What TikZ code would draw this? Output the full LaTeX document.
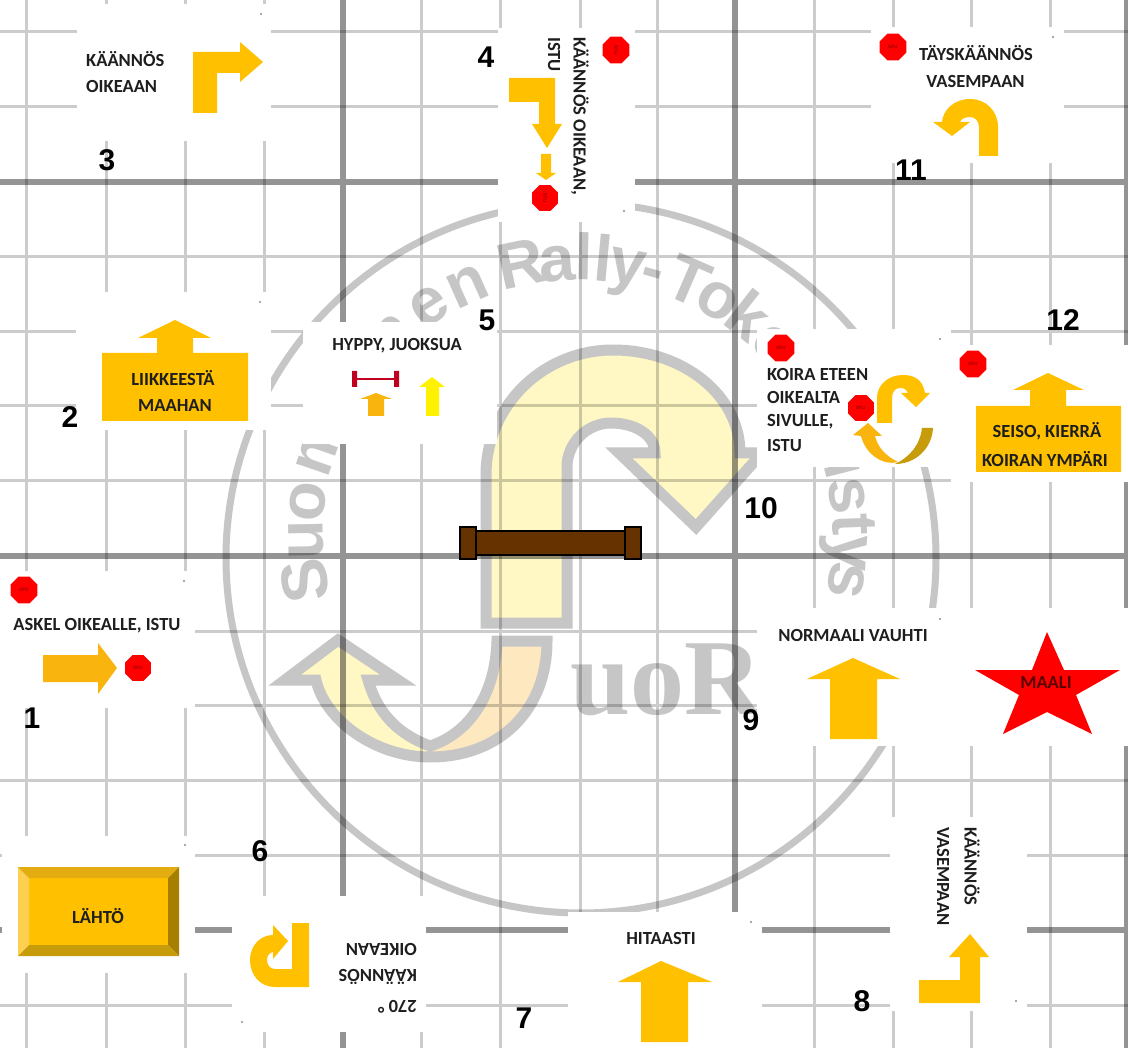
\documentclass[tikz,border=0pt]{standalone}
\usepackage{fontspec}
\setmainfont{Carlito}
\newfontfamily\numfont{Liberation Sans}
\newfontfamily\serfont{Liberation Serif}
\usepackage{tikz}
\usetikzlibrary{shapes.geometric}
\definecolor{rallyGold}{HTML}{FFC000}
\definecolor{rallyOrange}{HTML}{F9B40E}
\definecolor{rallyDark}{HTML}{C69C0B}
\definecolor{rallyRed}{HTML}{FF0000}
\definecolor{rallyText}{HTML}{1E1E1E}
\definecolor{rallyBar}{HTML}{C00020}
\definecolor{markGray}{HTML}{C6C6C6}
\definecolor{markYellow}{HTML}{FFF8C4}
\definecolor{markPeach}{HTML}{FDE8C0}
\definecolor{hurdleBrown}{HTML}{663300}
\tikzset{
  gridthin/.style={draw=black, draw opacity=0.2, line width=3pt},
  gridthick/.style={draw=black, draw opacity=0.42, line width=6pt},
  card/.style={fill=white, inner sep=0pt, rectangle},
  lbl/.style={inner sep=0pt, text=rallyText, font=\fontsize{18.5}{18.5}\selectfont\bfseries},
  num/.style={inner sep=0pt, text=black, font=\numfont\fontsize{30}{30}\selectfont\bfseries},
  stopsign/.style={regular polygon, regular polygon sides=8, fill=rallyRed, inner sep=0pt, minimum size=29pt, text=black!55!red, font=\fontsize{5}{5}\selectfont},
  gold/.style={fill=rallyGold},
  logo/.style={draw=markGray, line width=11pt, line join=miter},
  markletter/.style={inner sep=0pt, anchor=base, text=markGray, font=\numfont\fontsize{65}{65}\selectfont\bfseries},
  post/.style={draw=black, fill=hurdleBrown, line width=2pt, minimum width=16pt, minimum height=31pt, inner sep=0pt}
}
\begin{document}
\begin{tikzpicture}[x=1pt,y=-1pt]
  \useasboundingbox (0,0) rectangle (1128,1048);
  \fill[white] (0,0) rectangle (1128,1048);
  % watermark
  \draw[draw=markGray, line width=7pt] (581,558) circle[radius=355pt];
  \foreach \c/\a [count=\i] in {S/170.5,u/179,o/187,m/199,a/208,l/213,a/218,i/222,n/227,e/237,n/246,R/258,a/265.7,l/271.2,l/275.3,y/280.5,-/286,T/293.4,o/300.7,k/308,o/316,Y/329,h/335,d/341,i/346,s/351.8,t/357.9,y/363.8,s/369.6}{
    \node[markletter, rotate={270-\a}] (mark\i) at ({578+255*cos(\a)},{535+255*sin(\a)}) {\c};
  }
  \node[inner sep=0pt, text=markGray, font=\serfont\fontsize{108}{108}\selectfont\bfseries, anchor=base west] (markname) at (570,714) {uoR};
  \fill[markYellow] (486,623) -- (486,475) .. controls (486,406) and (543,350) .. (613,350) .. controls (683,350) and (740,395) .. (740,453) -- (762,453) -- (696,527) -- (619,453) -- (655,453) .. controls (655,435) and (635,423) .. (611,423) .. controls (587,423) and (567,443) .. (567,467) -- (567,623) -- cycle;
  \draw[logo] (486,623) -- (486,475) .. controls (486,406) and (543,350) .. (613,350) .. controls (683,350) and (740,395) .. (740,453) -- (762,453) -- (696,527) -- (619,453) -- (655,453) .. controls (655,435) and (635,423) .. (611,423) .. controls (587,423) and (567,443) .. (567,467) -- (567,623) -- cycle;
  \fill[markYellow] (430,757) .. controls (375,757) and (325,720) .. (316,680) -- (285,680) -- (338,640) -- (398,680) -- (368,680) .. controls (378,715) and (400,735) .. (430,746) -- cycle;
  \fill[markPeach] (547,641) .. controls (547,710) and (500,757) .. (430,757) -- (430,746) .. controls (465,735) and (495,700) .. (497,641) -- cycle;
  \draw[logo] (547,641) .. controls (547,710) and (500,757) .. (430,757) .. controls (375,757) and (325,720) .. (316,680) -- (285,680) -- (338,640) -- (398,680) -- (368,680) .. controls (378,715) and (400,735) .. (430,746) .. controls (465,735) and (495,700) .. (497,641) -- cycle;
  % grid
  \draw[gridthin] \foreach \x in {26,106,185,264,421,500,580,657,814,893,971,1050}{(\x,0) -- (\x,1048)} \foreach \y in {32,107,257,332,406,481,631,705,780,855,1005}{(0,\y) -- (1128,\y)};
  \draw[gridthick] \foreach \x in {343,735,1127}{(\x,0) -- (\x,1048)} \foreach \y in {182,556,930}{(0,\y) -- (1128,\y)};
  % hurdle
  \node[rectangle, draw=black, fill=hurdleBrown, line width=2pt, minimum width=150pt, minimum height=23pt, inner sep=0pt] (hurdlebar) at (551,543) {};
  \node[post] (hurdleleft) at (468,543) {};
  \node[post] (hurdleright) at (633,543) {};
  % 3
  \node[card, minimum width=194pt, minimum height=137pt] (card3) at (174,72.5) {};
  \node[lbl, anchor=west] (c3a) at (86,59) {KÄÄNNÖS};
  \node[lbl, anchor=west] (c3b) at (86,87) {OIKEAAN};
  \fill[gold] (193,113) -- (193,52) -- (240,52) -- (240,42) -- (263,62) -- (240,82) -- (240,73) -- (217,73) -- (217,113) -- cycle;
  % 11
  \node[card, minimum width=193pt, minimum height=136pt] (card11) at (967.5,95) {};
  \node[stopsign] (s11) at (893,47) {ISTU};
  \node[lbl] (c11a) at (976,53) {TÄYSKÄÄNNÖS};
  \node[lbl] (c11b) at (975.5,82) {VASEMPAAN};
  \fill[gold] (979,156) -- (998,156) -- (998,127) .. controls (998,111) and (986,99) .. (970,99) .. controls (954,99) and (943,110) .. (942,122) -- (933,122) -- (952,136) -- (970,122) -- (960,122) .. controls (961,119) and (965,117) .. (970,117) .. controls (975,117) and (979,121) .. (979,127) -- cycle;
  % 4
  \node[card, minimum width=137pt, minimum height=194pt] (card4) at (566.5,125) {};
  \node[stopsign, rotate=-90] (s4a) at (616,50) {ISTU};
  \node[stopsign, rotate=-90, minimum size=28pt] (s4b) at (545,198) {ISTU};
  \node[lbl, rotate=-90, anchor=west] (c4a) at (580,37) {KÄÄNNÖS OIKEAAN,};
  \node[lbl, rotate=-90, anchor=west] (c4b) at (554,37) {ISTU};
  \fill[gold] (509,78) -- (555,78) -- (555,124) -- (562,124) -- (547,148) -- (532,124) -- (539,124) -- (539,102) -- (509,102) -- cycle;
  \fill[gold] (541,154) -- (551,154) -- (551,173) -- (556,173) -- (546,180) -- (536,173) -- (541,173) -- cycle;
  % 2
  \node[card, minimum width=195pt, minimum height=138pt] (card2) at (173.5,361) {};
  \fill[gold] (102,353) -- (157,353) -- (157,338) -- (138,338) -- (175,320) -- (211,338) -- (193,338) -- (193,353) -- (248,353) -- (248,421) -- (102,421) -- cycle;
  \node[lbl] (c2a) at (173,378) {LIIKKEESTÄ};
  \node[lbl] (c2b) at (175,406) {MAAHAN};
  % 5
  \node[card, minimum width=194pt, minimum height=122pt] (card5) at (400,383) {};
  \node[lbl] (c5) at (397,346) {HYPPY, JUOKSUA};
  \draw[draw=rallyBar, line width=2pt] (356,379) -- (395,379);
  \fill[rallyBar] (352,371) rectangle (357,387) (394,371) rectangle (399,387);
  \fill[fill=rallyOrange] (368,416) -- (368,399) -- (360,399) -- (376,393) -- (392,399) -- (384,399) -- (384,416) -- cycle;
  \fill[fill=yellow] (426,416) -- (426,387) -- (419,387) -- (432,377) -- (445,387) -- (439,387) -- (439,416) -- cycle;
  % 10
  \node[card, minimum width=194pt, minimum height=138pt] (card10) at (854,398) {};
  \node[stopsign] (s10a) at (781,348) {ISTU};
  \node[stopsign, minimum size=28pt] (s10b) at (861,408) {ISTU};
  \node[lbl, anchor=west] (c10a) at (767,374) {KOIRA ETEEN};
  \node[lbl, anchor=west] (c10b) at (767,397) {OIKEALTA};
  \node[lbl, anchor=west] (c10c) at (767,422) {SIVULLE,};
  \node[lbl, anchor=west] (c10d) at (767,446) {ISTU};
  \fill[gold] (877,423) -- (877,398) .. controls (877,385) and (888,375) .. (903,375) .. controls (917,375) and (923,382) .. (925,393) -- (930,393) -- (916,407) -- (901,393) -- (908,393) .. controls (906,389) and (904,388) .. (900,388) .. controls (895,388) and (892,392) .. (892,398) -- (892,423) -- cycle;
  \fill[fill=rallyOrange] (868,423) -- (882,436) -- (875,436) .. controls (878,448) and (886,456) .. (898,462) .. controls (885,466) and (866,456) .. (861,436) -- (853,435) -- cycle;
  \fill[fill=rallyDark] (922,428) -- (933,428) .. controls (932,448) and (916,464) .. (895,464) .. controls (908,458) and (920,446) .. (922,428) -- cycle;
  % 12
  \node[card, minimum width=177pt, minimum height=137pt] (card12) at (1039.5,413.5) {};
  \node[stopsign] (s12) at (973,364) {ISTU};
  \fill[gold] (976,406) -- (1030,406) -- (1030,390) -- (1013,390) -- (1048,373) -- (1084,390) -- (1066,390) -- (1066,406) -- (1121,406) -- (1121,472) -- (976,472) -- cycle;
  \node[lbl] (c12a) at (1047,431) {SEISO, KIERRÄ};
  \node[lbl] (c12b) at (1045,459) {KOIRAN YMPÄRI};
  % 1
  \node[card, minimum width=195pt, minimum height=137pt] (card1) at (97.5,639.5) {};
  \node[stopsign] (s1a) at (24,590) {ISTU};
  \node[lbl] (c1) at (97,626) {ASKEL OIKEALLE, ISTU};
  \fill[fill=rallyOrange] (43,655) -- (98,655) -- (98,643) -- (117,668) -- (98,694) -- (98,682) -- (43,682) -- cycle;
  \node[stopsign, minimum size=28pt] (s1b) at (138,668) {ISTU};
  % 9 and finish
  \node[card, minimum width=371pt, minimum height=138pt] (card9) at (942.5,677) {};
  \node[lbl] (c9) at (853,636) {NORMAALI VAUHTI};
  \fill[gold] (830,739) -- (830,679) -- (807,679) -- (853,658) -- (900,679) -- (877,679) -- (877,739) -- cycle;
  \fill[rallyRed] (1047,632) -- (1064,670) -- (1120,670) -- (1076,695) -- (1092,734) -- (1047,712) -- (1003,734) -- (1019,695) -- (975,670) -- (1032,670) -- cycle;
  \node[lbl, text=black!65!red] (maali) at (1046,683) {MAALI};
  % start
  \node[card, minimum width=193pt, minimum height=137pt] (card0) at (98.5,904.5) {};
  \fill[gold] (29,878) rectangle (168,945);
  \fill[fill={rgb,255:red,255;green,208;blue,80}] (18,867) -- (29,878) -- (29,945) -- (18,956) -- cycle;
  \fill[fill={rgb,255:red,227;green,172;blue,16}] (18,867) -- (179,867) -- (168,878) -- (29,878) -- cycle;
  \fill[fill={rgb,255:red,166;green,127;blue,0}] (179,867) -- (179,956) -- (168,945) -- (168,878) -- cycle;
  \fill[fill=rallyDark] (18,956) -- (179,956) -- (168,945) -- (29,945) -- cycle;
  \node[lbl] (lahto) at (98,916) {LÄHTÖ};
  % 6
  \node[card, minimum width=194pt, minimum height=136pt] (card6) at (329,964) {};
  \node[lbl, rotate=180, anchor=west] (c6a) at (417,1007) {270 °};
  \node[lbl, rotate=180, anchor=west] (c6b) at (417,977) {KÄÄNNÖS};
  \node[lbl, rotate=180, anchor=west] (c6c) at (417,949) {OIKEAAN};
  \fill[gold] (292,923) -- (309,923) -- (309,987) -- (275,987) .. controls (260,987) and (250,975) .. (250,960) .. controls (250,946) and (260,935) .. (273,935) -- (273,925) -- (288,941) -- (273,959) -- (273,952) .. controls (269,953) and (267,956) .. (267,960) .. controls (267,965) and (270,969) .. (275,969) -- (292,969) -- cycle;
  % 7
  \node[card, minimum width=194pt, minimum height=136pt] (card7) at (665,980) {};
  \node[lbl] (c7) at (661,938) {HITAASTI};
  \fill[gold] (641,1042) -- (641,982) -- (618,982) -- (661,961) -- (712,982) -- (688,982) -- (688,1042) -- cycle;
  % 8
  \node[card, minimum width=137pt, minimum height=194pt] (card8) at (958.5,914) {};
  \node[lbl, rotate=-90, anchor=west] (c8a) at (972,827) {KÄÄNNÖS};
  \node[lbl, rotate=-90, anchor=west] (c8b) at (943,827) {VASEMPAAN};
  \fill[gold] (919,1003) -- (919,980) -- (960,980) -- (960,957) -- (949,957) -- (970,934) -- (989,957) -- (980,957) -- (980,1003) -- cycle;
  % specks
  \foreach \px/\py in {261/14,1053/37,260/302,184/581,940/339,940/619,751/922,1016/1001,624/211,242/1022,185/845}{
    \fill[black!45] (\px,\py) circle[radius=1.1pt];
  }
  % numbers
  \foreach \n/\px/\py in {1/32/718,2/70/417,3/107/160,4/486/57,5/487/320,6/260/851,7/524/1018,8/862/1001,9/751/720,10/761/508,11/911/170,12/1063/320}{
    \node[num] (num\n) at (\px,\py) {\n};
  }
\end{tikzpicture}
\end{document}
